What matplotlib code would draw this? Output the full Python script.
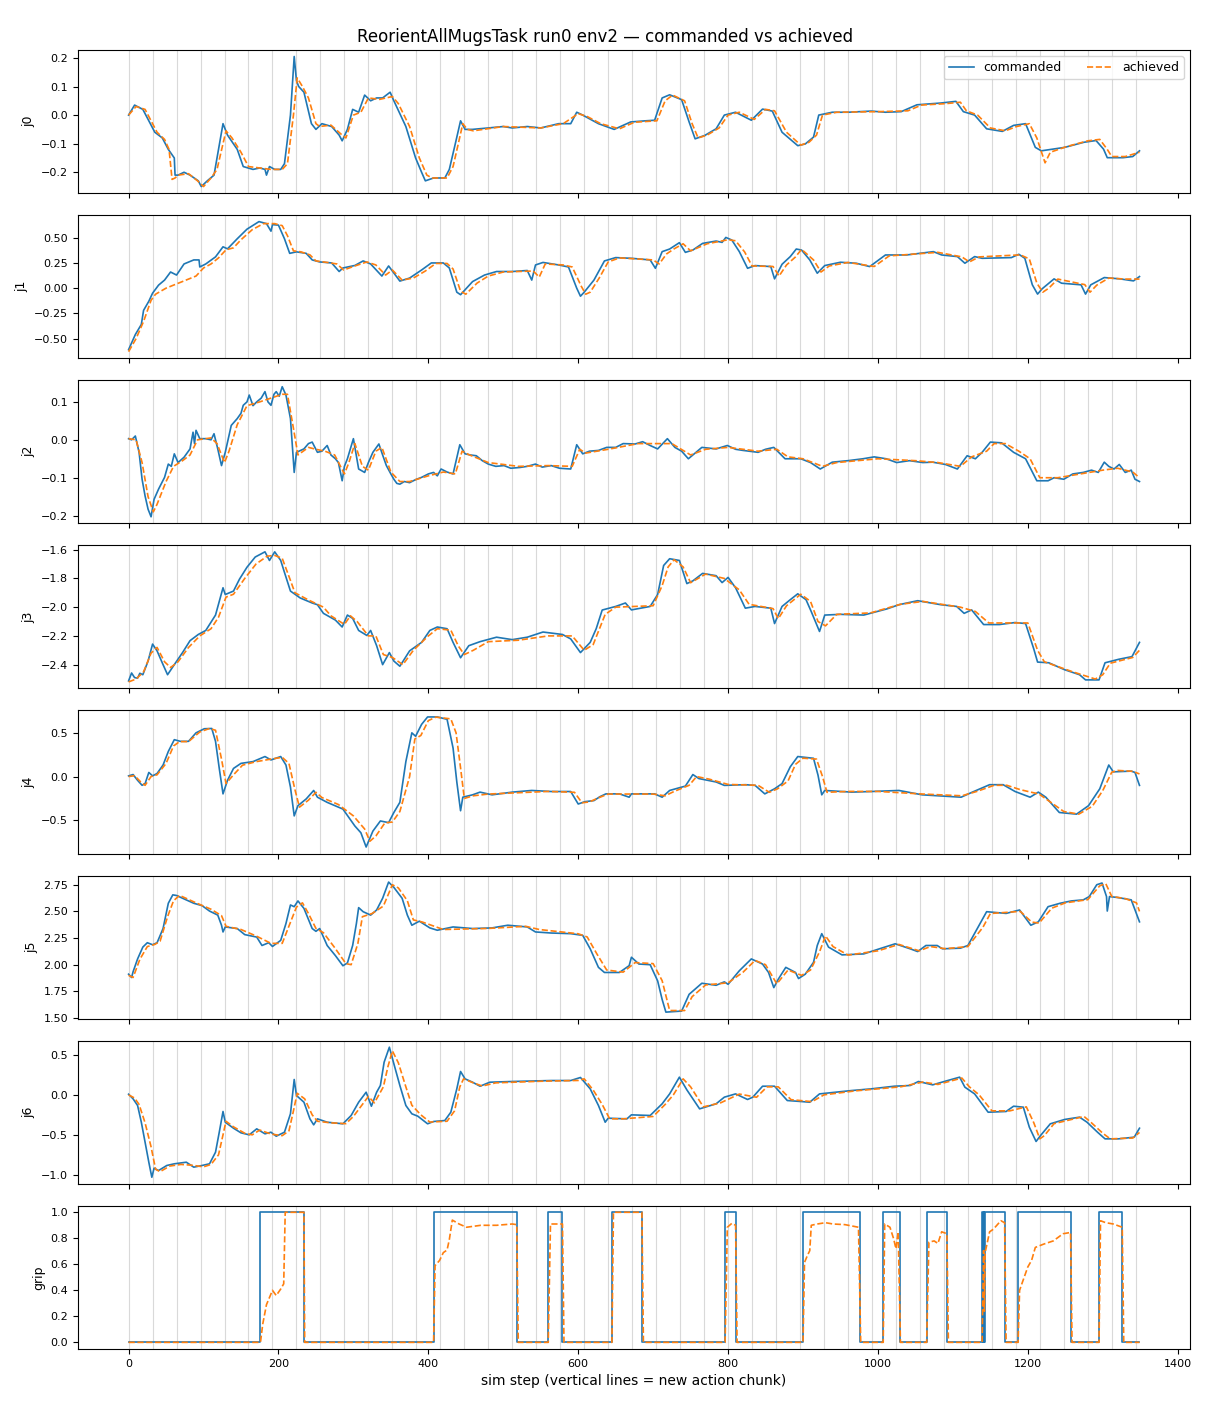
import matplotlib
matplotlib.use("Agg")
import matplotlib.pyplot as plt
import numpy as np

# (sim step, value) pairs
j0_cmd = [(0, 0.0), (8, 0.035), (19, 0.02), (35, -0.06), (45, -0.08), (53, -0.12), (61, -0.15), (62, -0.21),
          (66, -0.21), (74, -0.2), (82, -0.21), (93, -0.23), (97, -0.25), (105, -0.23), (114, -0.21), (126, -0.03),
          (132, -0.07), (145, -0.12), (153, -0.18), (166, -0.19), (175, -0.185), (182, -0.19), (184, -0.21),
          (188, -0.18), (195, -0.19), (203, -0.19), (208, -0.17), (216, 0.0), (221, 0.205), (224, 0.12), (227, 0.10),
          (234, 0.08), (244, -0.03), (250, -0.05), (258, -0.03), (271, -0.04), (281, -0.07), (285, -0.09),
          (292, -0.05), (299, 0.02), (307, 0.01), (315, 0.07), (323, 0.05), (331, 0.06), (339, 0.06), (349, 0.08),
          (354, 0.05), (370, -0.04), (383, -0.15), (391, -0.2), (396, -0.23), (407, -0.22), (415, -0.22),
          (422, -0.22), (428, -0.19), (436, -0.10), (443, -0.02), (449, -0.05), (459, -0.05), (480, -0.045),
          (500, -0.04), (512, -0.045), (532, -0.04), (550, -0.045), (574, -0.03), (590, -0.03), (598, 0.01),
          (606, 0.0), (627, -0.03), (648, -0.05), (670, -0.024), (690, -0.02), (702, -0.018), (712, 0.06),
          (722, 0.071), (738, 0.054), (748, -0.024), (756, -0.083), (769, -0.071), (784, -0.048), (795, 0.0),
          (810, 0.01), (831, -0.018), (846, 0.021), (859, 0.014), (872, -0.06), (893, -0.107), (903, -0.101),
          (914, -0.077), (921, 0.0), (939, 0.01), (960, 0.01), (991, 0.014), (1010, 0.01), (1031, 0.012),
          (1052, 0.036), (1083, 0.042), (1104, 0.048), (1114, 0.012), (1129, 0.0), (1145, -0.048), (1166, -0.057),
          (1181, -0.036), (1197, -0.03), (1210, -0.113), (1218, -0.125), (1249, -0.113), (1275, -0.095),
          (1291, -0.089), (1301, -0.119), (1306, -0.149), (1327, -0.149), (1340, -0.145), (1349, -0.125)]
j0_ach = [(0, 0.0), (10, 0.03), (22, 0.02), (38, -0.06), (48, -0.085), (54, -0.12), (58, -0.225), (62, -0.22),
          (66, -0.21), (80, -0.205), (92, -0.23), (100, -0.25), (110, -0.22), (118, -0.19), (130, -0.055),
          (138, -0.08), (150, -0.13), (160, -0.18), (175, -0.185), (190, -0.19), (205, -0.19), (212, -0.17),
          (220, 0.0), (225, 0.13), (232, 0.1), (240, 0.06), (250, -0.03), (255, -0.04), (270, -0.035), (285, -0.07),
          (290, -0.08), (300, 0.0), (310, 0.01), (320, 0.06), (335, 0.055), (352, 0.065), (360, 0.04), (375, -0.04),
          (388, -0.15), (398, -0.21), (405, -0.22), (425, -0.22), (433, -0.18), (440, -0.10), (446, -0.03),
          (452, -0.05), (460, -0.055), (500, -0.04), (550, -0.045), (580, -0.03), (600, 0.005), (612, -0.005),
          (630, -0.03), (655, -0.048), (675, -0.025), (705, -0.02), (716, 0.05), (726, 0.07), (742, 0.05),
          (752, -0.03), (760, -0.08), (772, -0.07), (788, -0.045), (800, 0.0), (815, 0.01), (835, -0.015),
          (850, 0.02), (862, 0.015), (878, -0.06), (897, -0.105), (908, -0.095), (918, -0.07), (926, 0.0),
          (945, 0.01), (1000, 0.012), (1040, 0.015), (1058, 0.035), (1090, 0.04), (1110, 0.045), (1118, 0.015),
          (1133, 0.0), (1150, -0.045), (1170, -0.055), (1185, -0.04), (1202, -0.03), (1212, -0.08), (1223, -0.167),
          (1230, -0.13), (1252, -0.11), (1280, -0.09), (1296, -0.085), (1306, -0.12), (1312, -0.145),
          (1330, -0.145), (1349, -0.13)]

j1_cmd = [(0, -0.61), (9, -0.46), (17, -0.36), (20, -0.22), (27, -0.13), (32, -0.05), (40, 0.03), (48, 0.08),
          (56, 0.16), (64, 0.13), (74, 0.24), (87, 0.28), (94, 0.28), (95, 0.21), (103, 0.24), (116, 0.31),
          (126, 0.41), (132, 0.39), (145, 0.49), (158, 0.585), (174, 0.66), (184, 0.64), (190, 0.565), (192, 0.63),
          (200, 0.625), (208, 0.49), (215, 0.345), (224, 0.36), (237, 0.345), (245, 0.28), (255, 0.26), (271, 0.25),
          (281, 0.165), (286, 0.2), (302, 0.225), (313, 0.27), (323, 0.24), (338, 0.12), (347, 0.22), (354, 0.15),
          (362, 0.07), (375, 0.1), (391, 0.18), (404, 0.25), (420, 0.25), (428, 0.2), (438, -0.04), (443, -0.065),
          (459, 0.065), (475, 0.13), (491, 0.165), (512, 0.165), (532, 0.175), (538, 0.08), (543, 0.23),
          (553, 0.255), (574, 0.23), (587, 0.21), (598, 0.0), (603, -0.08), (608, -0.04), (621, 0.08), (635, 0.27),
          (650, 0.303), (671, 0.296), (696, 0.28), (703, 0.197), (712, 0.362), (722, 0.388), (735, 0.451),
          (743, 0.355), (753, 0.378), (766, 0.444), (784, 0.467), (792, 0.454), (797, 0.503), (805, 0.477),
          (815, 0.362), (826, 0.197), (836, 0.224), (857, 0.214), (862, 0.092), (872, 0.237), (883, 0.313),
          (891, 0.388), (898, 0.378), (909, 0.28), (919, 0.148), (929, 0.224), (950, 0.257), (971, 0.247),
          (989, 0.214), (1010, 0.329), (1038, 0.329), (1074, 0.362), (1085, 0.329), (1106, 0.313), (1116, 0.247),
          (1129, 0.313), (1139, 0.296), (1178, 0.303), (1188, 0.336), (1196, 0.296), (1206, 0.033), (1213, -0.059),
          (1219, -0.007), (1235, 0.092), (1245, 0.049), (1271, 0.033), (1277, -0.059), (1284, 0.033), (1302, 0.105),
          (1323, 0.092), (1341, 0.072), (1349, 0.115)]
j1_ach = [(0, -0.63), (10, -0.5), (20, -0.33), (30, -0.12), (36, -0.06), (50, 0.0), (70, 0.06), (90, 0.12),
          (100, 0.2), (110, 0.24), (120, 0.3), (130, 0.38), (140, 0.4), (150, 0.48), (165, 0.58), (180, 0.64),
          (195, 0.64), (205, 0.62), (212, 0.52), (220, 0.37), (230, 0.36), (242, 0.33), (250, 0.27), (265, 0.255),
          (278, 0.24), (287, 0.18), (300, 0.215), (318, 0.26), (330, 0.23), (343, 0.13), (352, 0.18), (365, 0.08),
          (380, 0.1), (396, 0.17), (410, 0.245), (425, 0.245), (433, 0.19), (443, -0.03), (450, -0.06), (465, 0.05),
          (480, 0.12), (500, 0.16), (520, 0.165), (540, 0.17), (548, 0.11), (556, 0.24), (580, 0.23), (592, 0.21),
          (604, 0.02), (610, -0.06), (616, -0.04), (628, 0.1), (640, 0.26), (655, 0.3), (700, 0.28), (708, 0.24),
          (718, 0.34), (728, 0.39), (740, 0.44), (750, 0.37), (772, 0.44), (800, 0.48), (810, 0.47), (822, 0.36),
          (832, 0.22), (860, 0.215), (868, 0.12), (878, 0.23), (890, 0.31), (898, 0.385), (914, 0.28), (924, 0.16),
          (935, 0.22), (960, 0.255), (995, 0.215), (1015, 0.32), (1080, 0.355), (1112, 0.31), (1122, 0.26),
          (1135, 0.31), (1190, 0.33), (1202, 0.29), (1212, 0.05), (1220, -0.04), (1228, 0.0), (1240, 0.09),
          (1276, 0.035), (1283, -0.04), (1292, 0.03), (1308, 0.1), (1330, 0.09), (1349, 0.09)]

j2_cmd = [(0, 0.003), (4, 0.0), (9, 0.01), (14, -0.033), (18, -0.104), (22, -0.148), (26, -0.183), (30, -0.203),
          (34, -0.157), (40, -0.13), (48, -0.099), (53, -0.064), (57, -0.07), (61, -0.037), (66, -0.06),
          (74, -0.046), (82, -0.024), (86, 0.02), (88, -0.01), (90, 0.025), (95, 0.003), (103, 0.003), (110, 0.0),
          (114, 0.016), (119, -0.024), (124, -0.068), (129, -0.033), (137, 0.038), (145, 0.056), (150, 0.07),
          (153, 0.091), (158, 0.1), (161, 0.118), (166, 0.09), (171, 0.1), (177, 0.11), (182, 0.127), (186, 0.1),
          (190, 0.091), (194, 0.12), (197, 0.127), (201, 0.115), (205, 0.14), (210, 0.118), (216, 0.056),
          (221, -0.086), (224, -0.033), (234, -0.024), (240, -0.01), (245, -0.006), (252, -0.033), (258, -0.03),
          (265, -0.015), (270, -0.04), (276, -0.05), (280, -0.06), (285, -0.108), (288, -0.07), (292, -0.05),
          (300, 0.003), (307, -0.077), (315, -0.086), (320, -0.06), (326, -0.033), (334, -0.011), (339, -0.04),
          (344, -0.068), (350, -0.09), (354, -0.104), (358, -0.115), (362, -0.117), (368, -0.11), (375, -0.113),
          (383, -0.105), (391, -0.099), (400, -0.09), (407, -0.086), (412, -0.095), (417, -0.077), (425, -0.085),
          (433, -0.09), (442, -0.013), (449, -0.037), (456, -0.04), (464, -0.042), (472, -0.055), (480, -0.064),
          (490, -0.07), (501, -0.068), (510, -0.075), (522, -0.073), (532, -0.07), (543, -0.064), (552, -0.072),
          (564, -0.068), (575, -0.075), (590, -0.077), (598, -0.013), (606, -0.037), (615, -0.03), (627, -0.028),
          (638, -0.02), (650, -0.02), (660, -0.01), (676, -0.011), (686, -0.005), (696, -0.015), (706, -0.024),
          (719, 0.003), (729, -0.02), (738, -0.03), (747, -0.05), (756, -0.035), (765, -0.02), (784, -0.024),
          (799, -0.015), (810, -0.025), (820, -0.028), (840, -0.033), (850, -0.025), (861, -0.02), (876, -0.05),
          (897, -0.05), (910, -0.06), (923, -0.077), (939, -0.059), (960, -0.055), (980, -0.05), (995, -0.045),
          (1011, -0.05), (1025, -0.06), (1042, -0.055), (1060, -0.06), (1073, -0.059), (1090, -0.065),
          (1106, -0.077), (1119, -0.042), (1130, -0.05), (1139, -0.033), (1150, -0.006), (1165, -0.008),
          (1181, -0.033), (1197, -0.05), (1212, -0.108), (1227, -0.108), (1235, -0.1), (1248, -0.104),
          (1260, -0.09), (1274, -0.086), (1285, -0.08), (1294, -0.086), (1302, -0.059), (1308, -0.07),
          (1315, -0.077), (1322, -0.065), (1330, -0.086), (1338, -0.08), (1343, -0.104), (1349, -0.11)]
j2_ach = [(0, 0.003), (10, 0.0), (18, -0.06), (26, -0.15), (33, -0.19), (38, -0.17), (50, -0.11), (60, -0.07),
          (72, -0.055), (82, -0.04), (92, 0.0), (110, 0.005), (118, -0.01), (128, -0.06), (134, -0.03), (145, 0.04),
          (158, 0.09), (175, 0.1), (190, 0.11), (205, 0.12), (212, 0.12), (220, 0.03), (226, -0.04), (240, -0.02),
          (250, -0.025), (262, -0.03), (275, -0.04), (288, -0.09), (294, -0.06), (302, -0.01), (312, -0.07),
          (320, -0.08), (330, -0.03), (338, -0.02), (350, -0.085), (362, -0.11), (375, -0.11), (400, -0.095),
          (420, -0.085), (436, -0.09), (445, -0.03), (455, -0.04), (480, -0.06), (520, -0.07), (560, -0.068),
          (592, -0.07), (602, -0.025), (610, -0.035), (640, -0.025), (680, -0.01), (725, -0.01), (750, -0.04),
          (770, -0.025), (800, -0.02), (840, -0.03), (865, -0.025), (880, -0.045), (900, -0.05), (926, -0.07),
          (945, -0.06), (1000, -0.05), (1050, -0.055), (1080, -0.06), (1110, -0.07), (1125, -0.045), (1145, -0.03),
          (1155, -0.01), (1170, -0.01), (1188, -0.03), (1203, -0.05), (1216, -0.1), (1240, -0.1), (1270, -0.09),
          (1300, -0.08), (1320, -0.075), (1340, -0.085), (1349, -0.1)]

j3_cmd = [(0, -2.513), (4, -2.458), (8, -2.49), (12, -2.494), (15, -2.46), (19, -2.47), (26, -2.375), (32, -2.257),
          (38, -2.304), (46, -2.4), (52, -2.47), (61, -2.4), (72, -2.316), (82, -2.233), (93, -2.19), (103, -2.162),
          (116, -2.055), (126, -1.865), (129, -1.912), (140, -1.888), (148, -1.805), (158, -1.722), (169, -1.651),
          (182, -1.615), (188, -1.675), (195, -1.615), (203, -1.675), (208, -1.758), (216, -1.888), (229, -1.936),
          (245, -1.971), (252, -1.983), (260, -2.043), (276, -2.09), (285, -2.138), (292, -2.055), (299, -2.078),
          (307, -2.162), (318, -2.197), (323, -2.162), (331, -2.268), (339, -2.4), (348, -2.316), (354, -2.375),
          (362, -2.411), (375, -2.304), (391, -2.245), (402, -2.162), (412, -2.138), (425, -2.15), (433, -2.245),
          (443, -2.352), (454, -2.268), (469, -2.24), (491, -2.209), (512, -2.226), (532, -2.209), (553, -2.173),
          (579, -2.19), (590, -2.221), (603, -2.316), (616, -2.245), (624, -2.15), (632, -2.02), (650, -1.995),
          (663, -1.971), (671, -2.019), (696, -1.995), (706, -1.912), (714, -1.71), (722, -1.663), (735, -1.675),
          (745, -1.836), (753, -1.817), (766, -1.765), (784, -1.781), (792, -1.829), (800, -1.793), (810, -1.865),
          (823, -2.007), (836, -1.995), (857, -2.007), (862, -2.114), (872, -1.995), (883, -1.948), (893, -1.907),
          (904, -1.948), (911, -2.031), (922, -2.169), (929, -2.055), (950, -2.05), (981, -2.055), (1012, -2.012),
          (1028, -1.983), (1053, -1.955), (1084, -1.983), (1105, -1.995), (1115, -2.043), (1125, -2.019),
          (1141, -2.121), (1162, -2.121), (1183, -2.107), (1197, -2.114), (1208, -2.292), (1213, -2.382),
          (1228, -2.387), (1249, -2.435), (1269, -2.47), (1277, -2.506), (1295, -2.506), (1303, -2.387),
          (1321, -2.363), (1339, -2.344), (1349, -2.245)]
j3_ach = [(0, -2.52), (10, -2.5), (20, -2.45), (30, -2.32), (38, -2.28), (48, -2.38), (56, -2.42), (66, -2.38),
          (80, -2.28), (95, -2.2), (110, -2.15), (120, -2.07), (130, -1.93), (140, -1.91), (155, -1.8), (170, -1.7),
          (185, -1.645), (195, -1.64), (205, -1.66), (215, -1.8), (222, -1.9), (240, -1.95), (260, -2.0),
          (270, -2.06), (288, -2.12), (296, -2.06), (305, -2.1), (320, -2.2), (330, -2.2), (340, -2.33),
          (352, -2.35), (366, -2.4), (380, -2.3), (400, -2.2), (412, -2.15), (430, -2.16), (440, -2.27),
          (448, -2.33), (460, -2.3), (480, -2.24), (520, -2.23), (560, -2.2), (592, -2.2), (608, -2.3),
          (620, -2.26), (636, -2.05), (650, -2.0), (700, -1.99), (712, -1.85), (720, -1.72), (728, -1.67),
          (740, -1.72), (750, -1.83), (770, -1.77), (795, -1.8), (815, -1.88), (828, -1.98), (860, -2.01),
          (867, -2.08), (878, -1.99), (897, -1.91), (910, -1.96), (920, -2.1), (930, -2.13), (945, -2.05),
          (990, -2.04), (1030, -1.98), (1060, -1.96), (1110, -2.0), (1130, -2.03), (1148, -2.11), (1200, -2.11),
          (1213, -2.3), (1222, -2.38), (1260, -2.45), (1290, -2.5), (1300, -2.47), (1310, -2.39), (1340, -2.35),
          (1349, -2.3)]

j4_cmd = [(0, 0.008), (6, 0.023), (12, -0.043), (18, -0.1), (22, -0.081), (27, 0.047), (32, 0.008), (38, 0.035),
          (46, 0.132), (53, 0.287), (61, 0.422), (69, 0.403), (80, 0.403), (90, 0.5), (101, 0.547), (111, 0.55),
          (116, 0.403), (121, 0.093), (126, -0.198), (132, -0.043), (140, 0.093), (150, 0.151), (166, 0.171),
          (182, 0.229), (190, 0.19), (203, 0.229), (210, 0.132), (216, -0.12), (221, -0.45), (226, -0.333),
          (237, -0.256), (247, -0.159), (252, -0.236), (265, -0.295), (286, -0.372), (302, -0.566), (310, -0.643),
          (317, -0.806), (326, -0.624), (336, -0.508), (347, -0.527), (354, -0.411), (362, -0.295), (370, 0.171),
          (378, 0.5), (383, 0.461), (391, 0.597), (399, 0.682), (412, 0.682), (425, 0.655), (433, 0.326),
          (438, -0.062), (443, -0.391), (446, -0.236), (459, -0.209), (469, -0.178), (485, -0.209), (512, -0.178),
          (538, -0.159), (564, -0.171), (590, -0.171), (600, -0.314), (609, -0.287), (621, -0.275), (629, -0.23),
          (637, -0.198), (655, -0.198), (668, -0.236), (671, -0.198), (702, -0.198), (712, -0.236), (722, -0.159),
          (743, -0.109), (753, 0.023), (761, -0.023), (784, -0.062), (795, -0.101), (823, -0.093), (836, -0.101),
          (849, -0.198), (862, -0.14), (872, -0.081), (883, 0.112), (893, 0.229), (914, 0.209), (920, 0.016),
          (925, -0.209), (929, -0.159), (965, -0.178), (991, -0.171), (1028, -0.159), (1059, -0.209),
          (1111, -0.236), (1126, -0.178), (1149, -0.093), (1167, -0.093), (1183, -0.171), (1203, -0.236),
          (1214, -0.178), (1224, -0.236), (1242, -0.411), (1265, -0.43), (1281, -0.333), (1296, -0.14),
          (1308, 0.132), (1314, 0.054), (1338, 0.062), (1343, 0.047), (1349, -0.101)]
j4_ach = [(0, 0.0), (8, 0.01), (16, -0.06), (22, -0.1), (30, 0.0), (38, 0.02), (50, 0.15), (60, 0.35), (68, 0.4),
          (80, 0.4), (95, 0.51), (108, 0.55), (116, 0.53), (124, 0.2), (130, -0.08), (140, 0.02), (152, 0.13),
          (170, 0.17), (190, 0.2), (205, 0.22), (214, 0.15), (222, -0.15), (228, -0.35), (240, -0.27), (250, -0.18),
          (258, -0.24), (280, -0.32), (300, -0.45), (315, -0.6), (322, -0.74), (330, -0.68), (342, -0.53),
          (352, -0.52), (362, -0.4), (375, 0.0), (382, 0.43), (390, 0.47), (400, 0.64), (410, 0.68), (430, 0.66),
          (437, 0.5), (443, 0.1), (448, -0.25), (460, -0.22), (480, -0.2), (520, -0.185), (560, -0.17),
          (595, -0.18), (605, -0.3), (615, -0.29), (628, -0.24), (640, -0.2), (700, -0.2), (716, -0.22),
          (728, -0.17), (748, -0.1), (758, 0.0), (775, -0.03), (800, -0.09), (840, -0.1), (855, -0.18),
          (866, -0.14), (880, -0.05), (890, 0.14), (900, 0.21), (918, 0.2), (926, 0.0), (932, -0.18), (960, -0.17),
          (1000, -0.17), (1060, -0.2), (1112, -0.22), (1132, -0.17), (1155, -0.1), (1172, -0.1), (1190, -0.15),
          (1215, -0.2), (1248, -0.4), (1268, -0.43), (1286, -0.34), (1300, -0.16), (1312, 0.05), (1320, 0.07),
          (1340, 0.06), (1349, 0.03)]

j5_cmd = [(0, 1.911), (4, 1.88), (6, 1.934), (12, 2.054), (19, 2.165), (25, 2.206), (32, 2.187), (38, 2.206),
          (46, 2.339), (53, 2.576), (59, 2.655), (64, 2.649), (74, 2.617), (87, 2.576), (98, 2.554), (108, 2.503),
          (119, 2.465), (124, 2.37), (126, 2.307), (129, 2.354), (145, 2.339), (155, 2.282), (171, 2.259),
          (178, 2.18), (187, 2.206), (192, 2.171), (203, 2.228), (210, 2.386), (216, 2.56), (221, 2.544),
          (226, 2.598), (234, 2.528), (245, 2.339), (250, 2.313), (255, 2.339), (265, 2.18), (276, 2.085),
          (286, 1.99), (292, 2.016), (299, 2.18), (304, 2.386), (307, 2.535), (313, 2.497), (323, 2.465),
          (331, 2.513), (339, 2.623), (347, 2.775), (354, 2.725), (365, 2.623), (372, 2.465), (378, 2.37),
          (388, 2.408), (402, 2.345), (412, 2.323), (433, 2.354), (459, 2.339), (485, 2.345), (506, 2.37),
          (532, 2.354), (543, 2.307), (564, 2.297), (590, 2.291), (606, 2.275), (616, 2.149), (627, 1.975),
          (635, 1.927), (648, 1.927), (655, 1.927), (668, 1.991), (671, 2.07), (681, 2.006), (696, 2.0),
          (706, 1.848), (712, 1.674), (717, 1.555), (738, 1.565), (748, 1.722), (765, 1.826), (784, 1.807),
          (795, 1.839), (800, 1.816), (815, 1.943), (831, 2.054), (846, 2.006), (854, 1.927), (861, 1.785),
          (867, 1.864), (877, 1.975), (890, 1.927), (894, 1.87), (903, 1.911), (914, 2.022), (919, 2.18),
          (925, 2.291), (934, 2.165), (952, 2.092), (981, 2.101), (1002, 2.149), (1023, 2.196), (1043, 2.149),
          (1053, 2.123), (1064, 2.18), (1079, 2.18), (1086, 2.149), (1110, 2.155), (1120, 2.18), (1135, 2.37),
          (1145, 2.497), (1171, 2.481), (1189, 2.513), (1199, 2.418), (1204, 2.37), (1214, 2.402), (1227, 2.544),
          (1243, 2.576), (1258, 2.598), (1274, 2.608), (1282, 2.639), (1292, 2.75), (1299, 2.766), (1305, 2.639),
          (1306, 2.503), (1309, 2.639), (1320, 2.63), (1338, 2.608), (1349, 2.402)]
j5_ach = [(0, 1.9), (6, 1.88), (15, 2.05), (25, 2.17), (35, 2.19), (42, 2.22), (52, 2.45), (60, 2.6), (68, 2.65),
          (90, 2.58), (110, 2.52), (124, 2.46), (130, 2.36), (150, 2.33), (170, 2.27), (190, 2.2), (205, 2.2),
          (215, 2.38), (224, 2.54), (232, 2.58), (240, 2.48), (250, 2.34), (260, 2.3), (275, 2.16), (290, 2.01),
          (297, 2.0), (306, 2.2), (312, 2.45), (325, 2.48), (340, 2.55), (352, 2.75), (360, 2.72), (372, 2.6),
          (380, 2.42), (392, 2.4), (420, 2.33), (480, 2.34), (530, 2.36), (548, 2.33), (600, 2.29), (612, 2.26),
          (625, 2.1), (638, 1.95), (660, 1.93), (676, 2.02), (700, 2.01), (712, 1.85), (722, 1.57), (742, 1.57),
          (752, 1.7), (770, 1.81), (800, 1.83), (820, 1.93), (836, 2.04), (850, 2.0), (865, 1.82), (880, 1.95),
          (898, 1.9), (910, 1.95), (922, 2.12), (930, 2.27), (940, 2.17), (960, 2.09), (1000, 2.13), (1028, 2.19),
          (1055, 2.13), (1070, 2.17), (1090, 2.15), (1120, 2.17), (1140, 2.35), (1150, 2.48), (1190, 2.5),
          (1205, 2.4), (1215, 2.39), (1232, 2.53), (1250, 2.58), (1280, 2.61), (1296, 2.74), (1304, 2.76),
          (1312, 2.64), (1330, 2.62), (1345, 2.58), (1349, 2.5)]

j6_cmd = [(0, 0.008), (6, -0.05), (12, -0.133), (17, -0.342), (22, -0.592), (27, -0.842), (31, -1.03), (34, -0.917),
          (40, -0.946), (51, -0.883), (61, -0.862), (77, -0.842), (87, -0.904), (98, -0.883), (108, -0.862),
          (116, -0.717), (121, -0.467), (126, -0.208), (129, -0.342), (140, -0.417), (150, -0.475), (161, -0.5),
          (171, -0.425), (182, -0.487), (190, -0.467), (197, -0.517), (208, -0.467), (216, -0.237), (221, 0.192),
          (224, -0.008), (234, -0.092), (242, -0.3), (247, -0.375), (252, -0.3), (265, -0.342), (286, -0.362),
          (297, -0.258), (307, -0.092), (317, 0.033), (324, -0.142), (331, 0.033), (336, 0.117), (341, 0.408),
          (348, 0.596), (354, 0.388), (362, 0.117), (370, -0.133), (378, -0.237), (386, -0.267), (399, -0.362),
          (407, -0.333), (422, -0.321), (430, -0.217), (438, 0.075), (443, 0.292), (449, 0.2), (459, 0.158),
          (469, 0.108), (482, 0.158), (512, 0.167), (564, 0.179), (590, 0.179), (603, 0.217), (616, 0.075),
          (627, -0.133), (636, -0.342), (640, -0.292), (665, -0.3), (671, -0.25), (696, -0.258), (712, -0.112),
          (722, 0.012), (735, 0.221), (745, 0.062), (762, -0.175), (784, -0.112), (795, -0.029), (810, 0.012),
          (826, -0.058), (833, -0.029), (846, 0.108), (862, 0.108), (879, -0.071), (897, -0.083), (909, -0.092),
          (922, 0.012), (965, 0.054), (991, 0.075), (1022, 0.108), (1043, 0.117), (1054, 0.167), (1073, 0.125),
          (1093, 0.179), (1109, 0.221), (1116, 0.096), (1129, 0.012), (1147, -0.217), (1171, -0.208),
          (1181, -0.142), (1194, -0.154), (1202, -0.404), (1211, -0.583), (1217, -0.508), (1230, -0.362),
          (1249, -0.308), (1269, -0.279), (1279, -0.342), (1293, -0.467), (1303, -0.55), (1321, -0.55),
          (1342, -0.529), (1349, -0.417)]
j6_ach = [(0, 0.0), (8, -0.04), (14, -0.12), (22, -0.35), (30, -0.65), (36, -0.93), (42, -0.96), (55, -0.89),
          (70, -0.87), (85, -0.88), (100, -0.9), (110, -0.87), (120, -0.75), (126, -0.5), (130, -0.33), (140, -0.4),
          (155, -0.48), (165, -0.5), (175, -0.44), (190, -0.49), (205, -0.51), (214, -0.45), (220, -0.2),
          (225, 0.02), (235, -0.05), (245, -0.25), (252, -0.33), (270, -0.35), (290, -0.36), (300, -0.27),
          (312, -0.12), (320, -0.02), (328, -0.1), (340, 0.1), (346, 0.35), (352, 0.55), (360, 0.4), (370, 0.1),
          (378, -0.13), (390, -0.25), (402, -0.34), (425, -0.33), (435, -0.2), (442, 0.1), (447, 0.2), (460, 0.15),
          (472, 0.11), (490, 0.15), (550, 0.17), (600, 0.18), (608, 0.2), (620, 0.06), (632, -0.12), (642, -0.3),
          (660, -0.3), (700, -0.27), (716, -0.12), (727, 0.0), (740, 0.2), (750, 0.1), (767, -0.15), (790, -0.1),
          (815, 0.01), (838, -0.03), (852, 0.1), (867, 0.1), (884, -0.06), (912, -0.085), (928, 0.0), (970, 0.05),
          (1030, 0.1), (1060, 0.16), (1080, 0.13), (1112, 0.21), (1122, 0.1), (1135, 0.0), (1152, -0.2),
          (1176, -0.2), (1198, -0.15), (1208, -0.35), (1216, -0.55), (1222, -0.51), (1235, -0.36), (1275, -0.27),
          (1285, -0.35), (1300, -0.48), (1310, -0.55), (1340, -0.54), (1349, -0.47)]

# commanded gripper: step function, value holds from each step until the next
grip_cmd_steps = [0, 176, 234, 407, 518, 560, 579, 645, 685, 796, 810, 900, 976, 1007, 1029, 1065, 1092,
                  1139, 1140, 1141, 1142, 1143, 1169, 1187, 1257, 1295, 1326, 1349]
grip_cmd_vals = [0, 1, 0, 1, 0, 1, 0, 1, 0, 1, 0, 1, 0, 1, 0, 1, 0, 1, 0, 1, 0, 1, 0, 1, 0, 1, 0, 0]
grip_ach = [(0, 0), (176, 0), (179, 0.14), (184, 0.29), (192, 0.40), (197, 0.36), (203, 0.41), (207, 0.45),
            (209, 1.0), (234, 1.0), (235, 0.0), (407, 0), (409, 0.59), (415, 0.63), (420, 0.69), (425, 0.71),
            (428, 0.79), (432, 0.94), (441, 0.91), (451, 0.885), (470, 0.9), (491, 0.9), (512, 0.91), (518, 0.905),
            (520, 0.0), (560, 0), (563, 0.91), (579, 0.91), (581, 0), (645, 0), (647, 1.0), (685, 1.0), (687, 0),
            (796, 0), (799, 0.885), (805, 0.915), (810, 0.9), (812, 0), (900, 0), (902, 0.615), (906, 0.67),
            (909, 0.705), (911, 0.9), (919, 0.91), (930, 0.92), (940, 0.91), (956, 0.905), (974, 0.885), (977, 0),
            (1007, 0), (1009, 0.91), (1016, 0.885), (1021, 0.795), (1024, 0.72), (1027, 0.85), (1030, 0),
            (1065, 0), (1068, 0.77), (1075, 0.78), (1080, 0.76), (1085, 0.85), (1092, 0.835), (1094, 0),
            (1139, 0), (1141, 0.705), (1142, 0.24), (1143, 0.69), (1149, 0.85), (1154, 0.87), (1164, 0.935),
            (1169, 0.92), (1171, 0), (1187, 0), (1189, 0.4), (1192, 0.45), (1200, 0.58), (1205, 0.63),
            (1210, 0.73), (1221, 0.755), (1234, 0.78), (1247, 0.835), (1257, 0.845), (1259, 0), (1295, 0),
            (1297, 0.935), (1304, 0.92), (1314, 0.91), (1326, 0.885), (1328, 0), (1349, 0)]

joint_names = ["j0", "j1", "j2", "j3", "j4", "j5", "j6"]
chunk_size = 32
n_steps = 1350


def unzip(pairs):
    a = np.array(pairs, dtype=float)
    return a[:, 0], a[:, 1]


def main():
    joints = [(j0_cmd, j0_ach), (j1_cmd, j1_ach), (j2_cmd, j2_ach), (j3_cmd, j3_ach),
              (j4_cmd, j4_ach), (j5_cmd, j5_ach), (j6_cmd, j6_ach)]

    fig, axes = plt.subplots(8, 1, figsize=(12.1, 14.08), dpi=100, sharex=True)
    fig.subplots_adjust(left=0.0645, right=0.9835, top=0.9645, bottom=0.042, hspace=0.154)
    fig.suptitle("ReorientAllMugsTask run0 env2 \u2014 commanded vs achieved", fontsize=12, y=0.98)

    chunk_starts = np.arange(0, n_steps, chunk_size)

    for i, (cmd, ach) in enumerate(joints):
        ax = axes[i]
        for s in chunk_starts:
            ax.axvline(s, color="0.85", lw=0.8, zorder=0)
        x, y = unzip(cmd)
        ax.plot(x, y, color="C0", lw=1.2, label="commanded")
        x, y = unzip(ach)
        ax.plot(x, y, color="C1", lw=1.2, ls="--", label="achieved")
        ax.set_ylabel(joint_names[i], fontsize=9)
        ax.tick_params(labelsize=8)

    ax = axes[7]
    for s in chunk_starts:
        ax.axvline(s, color="0.85", lw=0.8, zorder=0)
    ax.plot(grip_cmd_steps, grip_cmd_vals, color="C0", lw=1.2, drawstyle="steps-post")
    x, y = unzip(grip_ach)
    ax.plot(x, y, color="C1", lw=1.2, ls="--")
    ax.set_ylabel("grip", fontsize=9)
    ax.tick_params(labelsize=8)
    ax.set_xlabel("sim step (vertical lines = new action chunk)", fontsize=10)

    axes[0].legend(loc="upper right", ncol=2, fontsize=9)

    fig.savefig("out.png", dpi=100)
    plt.close(fig)


if __name__ == "__main__":
    main()
